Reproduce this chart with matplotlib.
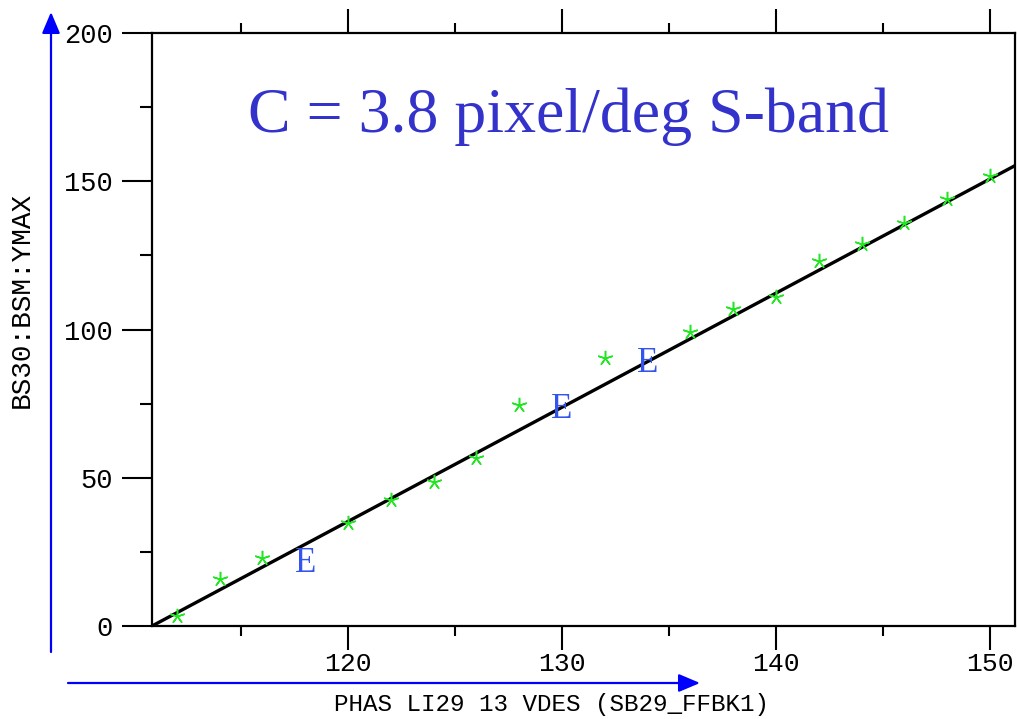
import numpy as np
import matplotlib
matplotlib.use("Agg")
from matplotlib import pyplot as plt
from matplotlib.ticker import MultipleLocator

# phase scan readings (green stars)
phase = [112, 114, 116, 120, 122, 124, 126, 128, 132, 136, 138, 140, 142, 144, 146, 148, 150]
ymax = [3.4, 15.9, 23.0, 34.8, 42.6, 48.6, 56.8, 74.7, 90.5, 99.0, 106.8, 110.8, 123.0, 129.0, 135.8, 144.0, 151.7]

# points flagged with an error
err_phase = [118, 130, 134]
err_ymax = [21.0, 73.0, 88.5]

# linear calibration fit
fit_slope = 3.85
fit_x0 = 110.84

xlim = (110.84, 151.17)
ylim = (0, 200)

mono = "Liberation Mono"
serif = "Liberation Serif"

fig = plt.figure(figsize=(10.17, 7.19), dpi=100)
ax = fig.add_axes([152/1017, 93/719, 863/1017, 593/719])

xf = np.array(xlim)
ax.plot(xf, fit_slope*(xf - fit_x0), color="black", lw=2.4, zorder=2)
ax.plot(phase, ymax, linestyle="none", marker=(5, 2), markersize=11,
        markeredgewidth=1.1, color="#22e622", zorder=3)
for px, py in zip(err_phase, err_ymax):
    ax.text(px, py, "E", family=serif, fontsize=25, color="#3355ee",
            ha="center", va="center", zorder=4)

ax.set_xlim(*xlim)
ax.set_ylim(*ylim)
ax.xaxis.set_major_locator(MultipleLocator(10))
ax.xaxis.set_minor_locator(MultipleLocator(5))
ax.yaxis.set_major_locator(MultipleLocator(50))
ax.yaxis.set_minor_locator(MultipleLocator(25))

ax.tick_params(axis="x", which="both", direction="out", top=True, bottom=True,
               width=1.5, labelsize=19, pad=2)
ax.tick_params(axis="x", which="major", length=17)
ax.tick_params(axis="x", which="minor", length=7)
ax.tick_params(axis="y", which="both", direction="out", left=True, right=False,
               width=1.5, labelsize=19.5, pad=7)
ax.tick_params(axis="y", which="major", length=21.5)
ax.tick_params(axis="y", which="minor", length=8.6)
for lab in ax.get_xticklabels() + ax.get_yticklabels():
    lab.set_family(mono)
for sp in ax.spines.values():
    sp.set_linewidth(1.6)

fig.text(568/1017, 1 - 132/719, "C = 3.8 pixel/deg S-band", family=serif,
         fontsize=46, color="#3333cc", ha="center", va="baseline")

# axis arrows
arrow = dict(arrowstyle="-|>,head_length=1.3,head_width=0.55", color="#0000ff",
             lw=1.6, shrinkA=0, shrinkB=0)
ax.annotate("", xy=(51, 707), xytext=(51, 67), xycoords="figure pixels",
            textcoords="figure pixels", arrowprops=arrow, annotation_clip=False)
ax.annotate("", xy=(700, 36), xytext=(68, 36), xycoords="figure pixels",
            textcoords="figure pixels", arrowprops=arrow, annotation_clip=False)

fig.text(552/1017, 1 - 705/719, "PHAS LI29 13 VDES (SB29_FFBK1)", family=mono,
         fontsize=17.5, ha="center", va="center")
fig.text(22/1017, 1 - 300/719, "BS30:BSM:YMAX", family=mono, fontsize=20,
         rotation=90, ha="center", va="center")

fig.savefig("out.png", dpi=100, facecolor="white")
